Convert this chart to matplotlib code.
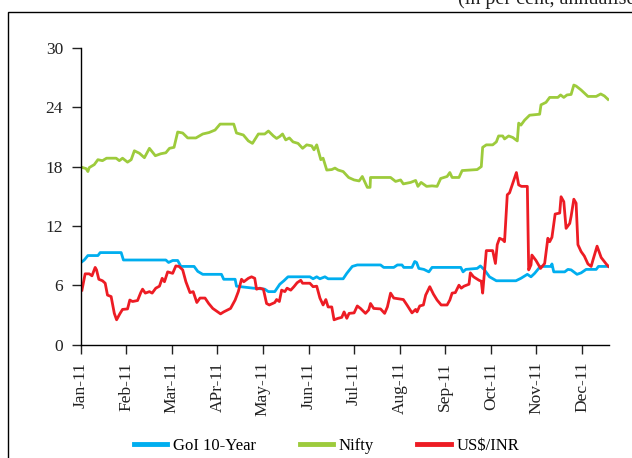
import matplotlib
matplotlib.use("Agg")
import matplotlib.pyplot as plt
from matplotlib.patches import Rectangle

# x positions are in months from 1 Jan 2011 (each month drawn with equal width)
months = ['Jan-11', 'Feb-11', 'Mar-11', 'APr-11', 'May-11', 'Jun-11',
          'Jul-11', 'Aug-11', 'Sep-11', 'Oct-11', 'Nov-11', 'Dec-11']

gsec_t = [0.01, 0.08, 0.16, 0.38, 0.43, 0.89, 0.94, 1.87, 1.93, 2.02, 2.13, 2.20,
          2.49, 2.57, 2.68, 3.09, 3.14, 3.39, 3.42, 3.79, 4.04, 4.12, 4.26, 4.37,
          4.46, 4.55, 5.03, 5.10, 5.18, 5.25, 5.36, 5.43, 5.76, 5.84, 5.96, 6.07,
          6.58, 6.65, 6.87, 6.95, 7.05, 7.09, 7.27, 7.33, 7.37, 7.42, 7.53, 7.64,
          7.71, 8.34, 8.39, 8.45, 8.70, 8.77, 8.86, 8.97, 9.12, 9.55, 9.66, 9.80,
          9.88, 9.96, 10.05, 10.10, 10.32, 10.34, 10.38, 10.62, 10.69, 10.76,
          10.89, 10.98, 11.09, 11.31, 11.36, 11.57]
gsec = [8.3, 8.55, 9.0, 9.0, 9.3, 9.3, 8.55, 8.55, 8.3, 8.5, 8.5, 7.9,
        7.9, 7.4, 7.1, 7.1, 6.6, 6.6, 5.9, 5.7, 5.6, 5.35, 5.35, 6.1,
        6.45, 6.85, 6.85, 6.65, 6.85, 6.65, 6.85, 6.65, 6.65, 7.2, 7.9, 8.05,
        8.05, 7.8, 7.8, 8.05, 8.05, 7.8, 7.8, 8.4, 8.3, 7.7, 7.6, 7.35,
        7.8, 7.8, 7.35, 7.6, 7.7, 7.95, 7.55, 6.85, 6.45, 6.45, 6.7, 7.1,
        6.85, 7.2, 7.7, 7.9, 7.9, 8.15, 7.35, 7.35, 7.6, 7.55,
        7.1, 7.25, 7.6, 7.6, 7.9, 7.9]

nifty_t = [0.01, 0.12, 0.16, 0.19, 0.30, 0.38, 0.48, 0.57, 0.78, 0.85, 0.92, 1.03,
           1.11, 1.18, 1.29, 1.40, 1.51, 1.64, 1.76, 1.87, 1.95, 2.05, 2.13, 2.24,
           2.35, 2.53, 2.68, 2.82, 2.95, 3.06, 3.36, 3.42, 3.57, 3.68, 3.77, 3.90,
           4.04, 4.12, 4.23, 4.30, 4.37, 4.43, 4.50, 4.58, 4.66, 4.77, 4.87, 4.96,
           5.07, 5.12, 5.18, 5.27, 5.32, 5.40, 5.51, 5.58, 5.65, 5.76, 5.88, 6.00,
           6.11, 6.18, 6.29, 6.35, 6.36, 6.80, 6.91, 7.02, 7.08, 7.24, 7.35, 7.40,
           7.47, 7.59, 7.71, 7.82, 7.90, 8.04, 8.10, 8.15, 8.30, 8.37, 8.70, 8.79,
           8.82, 8.90, 9.04, 9.12, 9.17, 9.26, 9.30, 9.39, 9.48, 9.58, 9.61, 9.66,
           9.74, 9.85, 10.07, 10.10, 10.21, 10.29, 10.47, 10.53, 10.60, 10.67,
           10.76, 10.82, 10.87, 10.98, 11.13, 11.31, 11.41, 11.49, 11.57]
nifty = [17.95, 17.8, 17.5, 17.9, 18.2, 18.7, 18.6, 18.85, 18.85, 18.6, 18.85, 18.45,
         18.7, 19.6, 19.35, 18.9, 19.85, 19.1, 19.3, 19.4, 19.85, 19.95, 21.5, 21.4,
         20.9, 20.9, 21.3, 21.45, 21.7, 22.3, 22.3, 21.4, 21.2, 20.6, 20.35, 21.3,
         21.3, 21.6, 21.1, 20.85, 21.05, 21.3, 20.7, 20.9, 20.5, 20.35, 19.85, 20.2,
         20.1, 19.7, 20.2, 18.7, 18.85, 17.65, 17.7, 17.85, 17.65, 17.5, 16.9, 16.65,
         16.55, 17.0, 15.9, 15.9, 16.9, 16.9, 16.5, 16.65, 16.25, 16.4, 16.6, 16.0,
         16.4, 16.0, 16.05, 16.0, 16.8, 17.0, 17.4, 16.9, 16.9, 17.6, 17.7, 18.0,
         19.95, 20.2, 20.2, 20.5, 21.1, 21.1, 20.8, 21.1, 20.95, 20.6, 22.4, 22.2,
         22.7, 23.2, 23.3, 24.25, 24.5, 25.0, 25.0, 25.25, 25.0, 25.25,
         25.3, 26.25, 26.15, 25.75, 25.1, 25.1, 25.35, 25.15, 24.8]

inr_t = [0.03, 0.10, 0.19, 0.25, 0.32, 0.35, 0.40, 0.48, 0.54, 0.59, 0.67, 0.74,
         0.79, 0.86, 0.92, 1.03, 1.08, 1.14, 1.25, 1.32, 1.36, 1.42, 1.51, 1.57,
         1.65, 1.73, 1.79, 1.84, 1.91, 2.02, 2.09, 2.16, 2.24, 2.31, 2.40, 2.47,
         2.55, 2.62, 2.73, 2.81, 2.90, 3.07, 3.14, 3.29, 3.39, 3.46, 3.53, 3.58,
         3.68, 3.75, 3.82, 3.86, 3.93, 4.01, 4.08, 4.14, 4.26, 4.30, 4.36, 4.41,
         4.48, 4.53, 4.61, 4.68, 4.75, 4.83, 4.87, 5.03, 5.10, 5.18, 5.25, 5.32,
         5.38, 5.43, 5.51, 5.56, 5.65, 5.73, 5.78, 5.84, 5.89, 6.00, 6.07, 6.14,
         6.25, 6.32, 6.36, 6.43, 6.58, 6.67, 6.73, 6.80, 6.87, 7.08, 7.16, 7.27,
         7.35, 7.38, 7.44, 7.52, 7.57, 7.66, 7.74, 7.82, 7.91, 8.04, 8.10, 8.15,
         8.22, 8.30, 8.35, 8.41, 8.52, 8.55, 8.62, 8.74, 8.79, 8.82, 8.90, 9.04,
         9.10, 9.14, 9.19, 9.26, 9.30, 9.36, 9.41, 9.48, 9.56, 9.61, 9.67, 9.80,
         9.83, 9.88, 9.90, 9.99, 10.09, 10.18, 10.25, 10.29, 10.34, 10.41, 10.51,
         10.54, 10.60, 10.65, 10.73, 10.76, 10.82, 10.87, 10.91, 10.98, 11.05,
         11.13, 11.20, 11.24, 11.33, 11.42, 11.53, 11.58]
inr = [5.5, 7.15, 7.15, 6.95, 7.8, 7.55, 6.6, 6.45, 6.2, 5.0, 4.85, 3.15,
       2.5, 3.1, 3.55, 3.6, 4.5, 4.35, 4.45, 5.25, 5.6, 5.2, 5.35, 5.2,
       5.7, 5.9, 6.7, 6.35, 7.35, 7.2, 7.95, 7.9, 7.55, 6.35, 5.25, 5.35,
       4.25, 4.7, 4.7, 4.15, 3.65, 3.1, 3.3, 3.65, 4.5, 5.35, 6.6, 6.35,
       6.7, 6.85, 6.7, 5.6, 5.7, 5.6, 4.15, 4.0, 4.25, 4.55, 4.35, 5.5,
       5.35, 5.7, 5.5, 5.85, 6.25, 6.5, 6.2, 6.2, 5.85, 5.9, 4.7, 4.0,
       4.55, 3.8, 3.8, 2.5, 2.65, 2.75, 3.3, 2.65, 3.15, 3.2, 3.9, 3.65,
       3.15, 3.5, 4.15, 3.65, 3.6, 3.15, 3.8, 5.2, 4.7, 4.55, 4.0, 3.2,
       3.55, 3.3, 3.9, 4.0, 5.0, 5.85, 5.1, 4.5, 4.0, 4.0, 4.5, 5.2,
       5.25, 6.0, 5.7, 5.9, 6.1, 7.25, 6.85, 6.5, 6.4, 5.2, 9.5, 9.5,
       8.2, 10.1, 10.75, 10.6, 10.4, 15.15, 15.35, 16.3, 17.4, 16.15, 16.0, 16.0,
       7.55, 8.05, 9.05, 8.5, 7.7, 8.2, 10.75, 10.4, 10.85, 13.2, 13.3,
       14.95, 14.45, 11.75, 12.25, 12.95, 14.7, 14.3, 10.1, 9.4, 8.95,
       8.15, 7.9, 8.55, 9.95, 8.8, 8.15, 7.9]

blue = '#00aeef'
green = '#9dcb3c'
red = '#ed1c24'

plt.rcParams['font.family'] = 'Liberation Serif'

fig = plt.figure(figsize=(6.32, 4.58), dpi=100)
ax = fig.add_axes([0.1275, 0.2478, 0.836, 0.6474])

ax.plot(gsec_t, gsec, color=blue, lw=2.0, label='GoI 10-Year')
ax.plot(nifty_t, nifty, color=green, lw=2.0, label='Nifty')
ax.plot(inr_t, inr, color=red, lw=2.0, label='US$/INR')

ax.set_xlim(0, 11.59)
ax.set_ylim(0, 30)
ax.set_yticks([0, 6, 12, 18, 24, 30])
ax.set_xticks(range(12))
ax.set_xticklabels(months, rotation=90)
for s in ['top', 'right']:
    ax.spines[s].set_visible(False)
ax.spines['left'].set_linewidth(1.0)
ax.spines['bottom'].set_linewidth(1.0)
ax.tick_params(axis='y', length=6.5, width=1, labelsize=12.5, pad=6, colors='#222222')
ax.tick_params(axis='x', length=6.5, width=1, labelsize=12.5, pad=6, colors='#222222')

leg = fig.legend(loc='center', bbox_to_anchor=(0.517, 0.026), ncol=3, frameon=False,
                 fontsize=12, handlelength=2.0, handletextpad=0.35, columnspacing=2.6)
for line in leg.get_lines():
    line.set_linewidth(3.5)

# outer frame, running off the right and bottom edges
fig.patches.append(Rectangle((8 / 632, -0.1), 1.1, 1.1 - 12 / 458,
                             transform=fig.transFigure, fill=False,
                             edgecolor='black', lw=1.0, clip_on=False))

fig.text(458 / 632, 1 - 4 / 458, '(in per cent, annualised)', fontsize=14.5,
         ha='left', va='baseline', color='#222222')

fig.savefig('out.png', dpi=100)
